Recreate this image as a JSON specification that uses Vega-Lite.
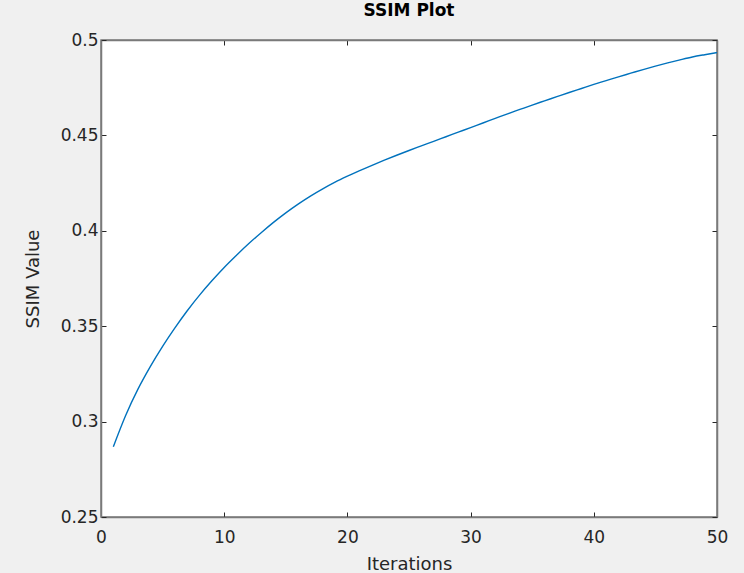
{
  "$schema": "https://vega.github.io/schema/vega-lite/v6.json",
  "width": 616,
  "height": 477,
  "autosize": {"type": "none"},
  "padding": {"left": 101, "top": 40, "right": 27, "bottom": 56},
  "background": "#f0f0f0",
  "title": {"text": "SSIM Plot", "fontSize": 17, "fontWeight": "bold", "color": "#000000", "font": "DejaVu Sans", "offset": 11, "anchor": "middle"},
  "config": {
    "view": {"fill": "white", "stroke": "#7a7a7a", "strokeWidth": 1.5},
    "axis": {
      "domainColor": "#7a7a7a", "domainWidth": 1.5,
      "tickColor": "#262626", "tickWidth": 1, "tickSize": -5,
      "labelFont": "DejaVu Sans", "labelFontSize": 17, "labelColor": "#262626", "labelFlush": false, "labelOverlap": false,
      "titleFont": "DejaVu Sans", "titleFontSize": 18, "titleColor": "#262626", "titleFontWeight": "normal",
      "grid": false
    }
  },
  "data": {"values": [
    {"iter": 1, "ssim": 0.2868}, {"iter": 2, "ssim": 0.3032}, {"iter": 3, "ssim": 0.317}, {"iter": 4, "ssim": 0.3288},
    {"iter": 5, "ssim": 0.3394}, {"iter": 6, "ssim": 0.3491}, {"iter": 7, "ssim": 0.3581}, {"iter": 8, "ssim": 0.3663},
    {"iter": 9, "ssim": 0.3738}, {"iter": 10, "ssim": 0.3808}, {"iter": 11, "ssim": 0.3872}, {"iter": 12, "ssim": 0.3933},
    {"iter": 13, "ssim": 0.399}, {"iter": 14, "ssim": 0.4044}, {"iter": 15, "ssim": 0.4094}, {"iter": 16, "ssim": 0.414},
    {"iter": 17, "ssim": 0.4182}, {"iter": 18, "ssim": 0.422}, {"iter": 19, "ssim": 0.4255}, {"iter": 20, "ssim": 0.4286},
    {"iter": 21, "ssim": 0.4315}, {"iter": 22, "ssim": 0.4343}, {"iter": 23, "ssim": 0.437}, {"iter": 24, "ssim": 0.4396},
    {"iter": 25, "ssim": 0.4421}, {"iter": 26, "ssim": 0.4445}, {"iter": 27, "ssim": 0.4469}, {"iter": 28, "ssim": 0.4493},
    {"iter": 29, "ssim": 0.4517}, {"iter": 30, "ssim": 0.4541}, {"iter": 31, "ssim": 0.4565}, {"iter": 32, "ssim": 0.4589},
    {"iter": 33, "ssim": 0.4613}, {"iter": 34, "ssim": 0.4636}, {"iter": 35, "ssim": 0.4659}, {"iter": 36, "ssim": 0.4681},
    {"iter": 37, "ssim": 0.4703}, {"iter": 38, "ssim": 0.4725}, {"iter": 39, "ssim": 0.4746}, {"iter": 40, "ssim": 0.4767},
    {"iter": 41, "ssim": 0.4787}, {"iter": 42, "ssim": 0.4807}, {"iter": 43, "ssim": 0.4826}, {"iter": 44, "ssim": 0.4845},
    {"iter": 45, "ssim": 0.4863}, {"iter": 46, "ssim": 0.488}, {"iter": 47, "ssim": 0.4896}, {"iter": 48, "ssim": 0.4911},
    {"iter": 49, "ssim": 0.4923}, {"iter": 50, "ssim": 0.4934}
  ]},
  "layer": [
    {
      "mark": {"type": "line", "color": "#0072BD", "strokeWidth": 1.4, "interpolate": "monotone", "clip": true},
      "encoding": {
        "x": {"field": "iter", "type": "quantitative", "scale": {"domain": [0, 50], "nice": false},
              "axis": {"orient": "bottom", "title": "Iterations", "values": [0, 10, 20, 30, 40, 50], "labelPadding": 17, "titlePadding": 10}},
        "y": {"field": "ssim", "type": "quantitative", "scale": {"domain": [0.25, 0.5], "nice": false, "zero": false},
              "axis": {"orient": "left", "title": "SSIM Value", "values": [0.25, 0.3, 0.35, 0.4, 0.45, 0.5], "format": "~g", "labelPadding": 8, "titlePadding": 18}}
      }
    },
    {
      "mark": {"type": "line", "opacity": 0},
      "encoding": {
        "x": {"field": "iter", "type": "quantitative", "scale": {"domain": [0, 50], "nice": false},
              "axis": {"orient": "top", "title": null, "labels": false, "values": [0, 10, 20, 30, 40, 50]}},
        "y": {"field": "ssim", "type": "quantitative", "scale": {"domain": [0.25, 0.5], "nice": false, "zero": false},
              "axis": {"orient": "right", "title": null, "labels": false, "values": [0.25, 0.3, 0.35, 0.4, 0.45, 0.5]}}
      }
    }
  ],
  "resolve": {"axis": {"x": "independent", "y": "independent"}}
}
